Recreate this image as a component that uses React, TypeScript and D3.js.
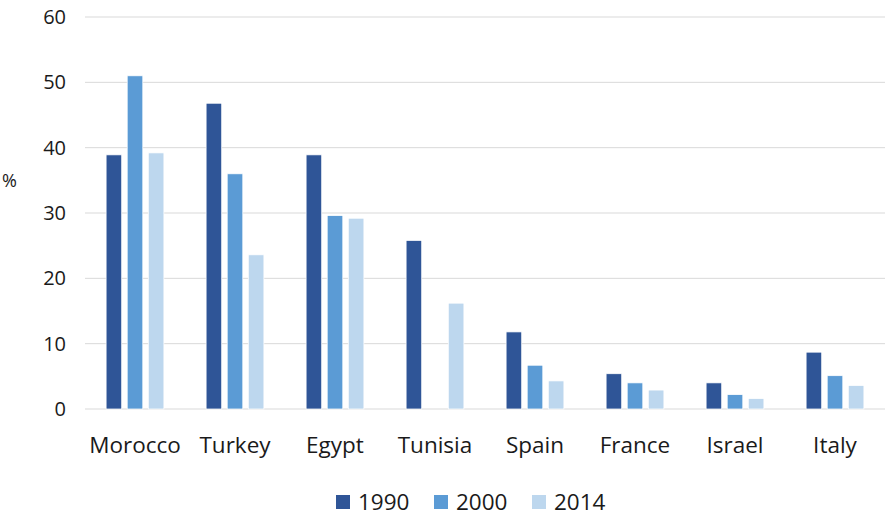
import React, { useEffect, useRef } from 'react';
import * as d3 from 'd3';

const countries = ['Morocco', 'Turkey', 'Egypt', 'Tunisia', 'Spain', 'France', 'Israel', 'Italy'];
const years = ['1990', '2000', '2014'];
const values1990 = [38.9, 46.8, 38.9, 25.8, 11.8, 5.4, 4.0, 8.7];
const values2000 = [51.0, 36.0, 29.6, null, 6.7, 4.0, 2.2, 5.1];
const values2014 = [39.2, 23.6, 29.2, 16.2, 4.3, 2.9, 1.6, 3.6];
const yTicks = [0, 10, 20, 30, 40, 50, 60];

const colors = ['#2F5597', '#5B9BD5', '#BDD7EE'];
const font = '"Open Sans", sans-serif';

export default function App() {
    const ref = useRef<SVGSVGElement>(null);

    useEffect(() => {
        const width = 889, height = 518;
        const margin = { top: 17, right: 4, bottom: 109, left: 85 };
        const svg = d3.select(ref.current);
        svg.selectAll('*').remove();

        const series = [values1990, values2000, values2014];

        const x = d3.scaleBand().domain(countries).range([margin.left, width - margin.right]).padding(0);
        const xi = d3.scaleBand().domain(years).range([0, x.bandwidth()]).paddingInner(0.26).paddingOuter(1.0);
        const y = d3.scaleLinear().domain([0, 60]).range([height - margin.bottom, margin.top]);

        // gridlines
        svg.append('g')
            .selectAll('line')
            .data(yTicks)
            .enter()
            .append('line')
            .attr('x1', margin.left)
            .attr('x2', width - margin.right)
            .attr('y1', d => y(d))
            .attr('y2', d => y(d))
            .attr('stroke', '#d9d9d9')
            .attr('stroke-width', 1);

        // y tick labels
        svg.append('g')
            .selectAll('text')
            .data(yTicks)
            .enter()
            .append('text')
            .attr('x', 66)
            .attr('y', d => y(d))
            .attr('dy', '0.35em')
            .attr('text-anchor', 'end')
            .attr('font-family', font)
            .attr('font-size', 20)
            .attr('fill', '#1a1a1a')
            .text(d => d);

        svg.append('text')
            .attr('x', 2)
            .attr('y', 181)
            .attr('dy', '0.35em')
            .attr('font-family', font)
            .attr('font-size', 18)
            .attr('fill', '#1a1a1a')
            .text('%');

        // bars
        series.forEach((vals, si) => {
            svg.append('g')
                .selectAll('rect')
                .data(countries.map((c, i) => ({ c, v: vals[i] })).filter(d => d.v != null))
                .enter()
                .append('rect')
                .attr('x', d => (x(d.c) as number) + (xi(years[si]) as number))
                .attr('y', d => y(d.v as number))
                .attr('width', xi.bandwidth())
                .attr('height', d => y(0) - y(d.v as number))
                .attr('fill', colors[si])
                .attr('stroke', '#ffffff')
                .attr('stroke-width', 0.75);
        });

        // category labels
        svg.append('g')
            .selectAll('text')
            .data(countries)
            .enter()
            .append('text')
            .attr('x', d => (x(d) as number) + x.bandwidth() / 2)
            .attr('y', 453)
            .attr('text-anchor', 'middle')
            .attr('font-family', font)
            .attr('font-size', 22.5)
            .attr('fill', '#1a1a1a')
            .text(d => d);

        // legend
        const legendX = [336, 434, 532];
        const legend = svg.append('g');
        years.forEach((yr, i) => {
            legend.append('rect')
                .attr('x', legendX[i])
                .attr('y', 495)
                .attr('width', 14)
                .attr('height', 14)
                .attr('fill', colors[i]);
            legend.append('text')
                .attr('x', legendX[i] + 22)
                .attr('y', 510)
                .attr('font-family', font)
                .attr('font-size', 22.5)
                .attr('fill', '#1a1a1a')
                .text(yr);
        });
    }, []);

    return (
        <svg ref={ref} width={889} height={518}
             style={{ position: 'absolute', left: 0, top: 0, background: '#fff' }} />
    );
}
